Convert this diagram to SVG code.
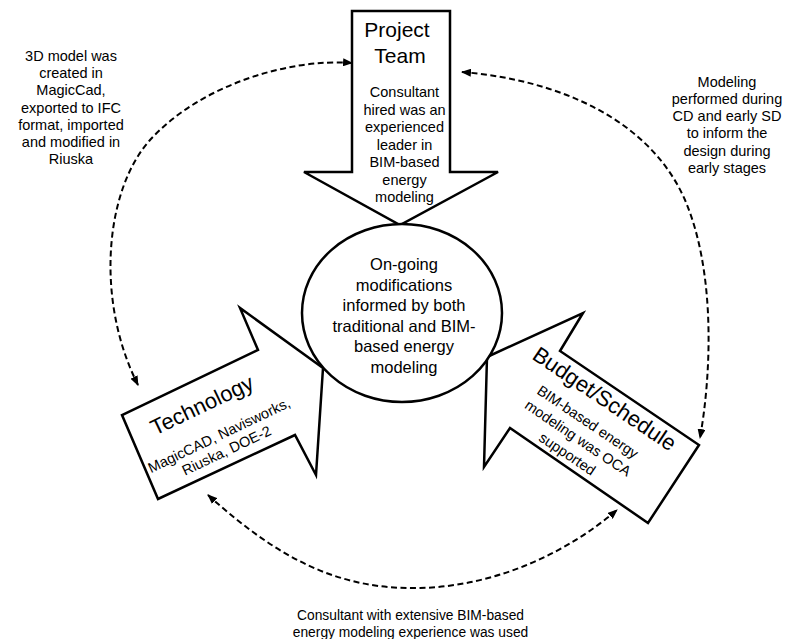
<svg xmlns="http://www.w3.org/2000/svg" width="794" height="639" viewBox="0 0 794 639">
<defs>
<marker id="ah" markerUnits="userSpaceOnUse" markerWidth="10" markerHeight="8" refX="9" refY="4" orient="auto-start-reverse">
<path d="M0,0 L10,4 L0,8 Z" fill="#000"/>
</marker>
</defs>
<style>
text{font-family:"Liberation Sans",Arial,sans-serif;fill:#000;text-anchor:middle}
.shape{fill:#fff;stroke:#000;stroke-width:2.5;stroke-linejoin:miter}
.conn{fill:none;stroke:#000;stroke-width:2;stroke-dasharray:6 3.5;marker-start:url(#ah);marker-end:url(#ah)}
.big{font-size:21px}
.mid{font-size:16.5px}
.sm{font-size:14.5px}
</style>
<rect width="794" height="639" fill="#fff"/>
<g id="connectors">
<path class="conn" d="M352,63 C290,58 200,85 150,140 C105,190 95,300 138,385"/>
<path class="conn" d="M462,72 C560,80 650,120 685,200 C715,270 712,370 700,438"/>
<path class="conn" d="M208,495 C280,560 340,590 420,588 C500,586 570,550 617,510"/>
</g>
<g id="project-team">
<path class="shape" d="M352,11 L450,11 L450,172 L498,172 L400,225 L304,172 L352,172 Z"/>
<text class="big" x="397" y="37">Project</text>
<text class="big" x="400" y="63">Team</text>
<text class="sm" x="404.5" y="97">Consultant</text>
<text class="sm" x="404.5" y="114.5">hired was an</text>
<text class="sm" x="404.5" y="132">experienced</text>
<text class="sm" x="404.5" y="149.5">leader in</text>
<text class="sm" x="404.5" y="167">BIM-based</text>
<text class="sm" x="404.5" y="184.5">energy</text>
<text class="sm" x="404.5" y="202">modeling</text>
</g>
<g id="technology">
<path class="shape" d="M323,368 L240,308 L258,350 L122,415 L158,499 L295,435 L316,475 Z"/>
<g transform="translate(122,415) rotate(-25.5)">
<text class="big" x="76.5" y="33" style="font-size:22px">Technology</text>
<text class="sm" x="79" y="65">MagicCAD, Navisworks,</text>
<text class="sm" x="79" y="82">Riuska, DOE-2</text>
</g>
</g>
<g id="budget-schedule">
<path class="shape" d="M487,357 L583,313 L560,351 L699,445 L648,523 L510,428 L484,467 Z"/>
<g transform="translate(585,426) rotate(34)">
<text class="big" x="1" y="-26" style="font-size:22px">Budget/Schedule</text>
<text class="sm" x="0" y="0">BIM-based energy</text>
<text class="sm" x="1" y="19">modeling was OCA</text>
<text class="sm" x="1" y="38">supported</text>
</g>
</g>
<g id="center">
<ellipse class="shape" cx="402" cy="313" rx="100" ry="89"/>
<text class="mid" x="404" y="270">On-going</text>
<text class="mid" x="404" y="290.5">modifications</text>
<text class="mid" x="404" y="311">informed by both</text>
<text class="mid" x="404" y="331.5">traditional and BIM-</text>
<text class="mid" x="404" y="352">based energy</text>
<text class="mid" x="404" y="372.5">modeling</text>
</g>
<g id="note-left">
<text class="sm" x="71" y="61">3D model was</text>
<text class="sm" x="71" y="78.2">created in</text>
<text class="sm" x="71" y="95.4">MagicCad,</text>
<text class="sm" x="71" y="112.6">exported to IFC</text>
<text class="sm" x="71" y="129.8">format, imported</text>
<text class="sm" x="71" y="147">and modified in</text>
<text class="sm" x="71" y="164.2">Riuska</text>
</g>
<g id="note-right">
<text class="sm" x="727" y="86.7">Modeling</text>
<text class="sm" x="727" y="103.9">performed during</text>
<text class="sm" x="727" y="121.1">CD and early SD</text>
<text class="sm" x="727" y="138.3">to inform the</text>
<text class="sm" x="727" y="155.5">design during</text>
<text class="sm" x="727" y="172.7">early stages</text>
</g>
<g id="note-bottom">
<text class="sm" x="410.5" y="620" style="font-size:13.8px">Consultant with extensive BIM-based</text>
<text class="sm" x="410.5" y="637" style="font-size:13.8px">energy modeling experience was used</text>
</g>
</svg>
